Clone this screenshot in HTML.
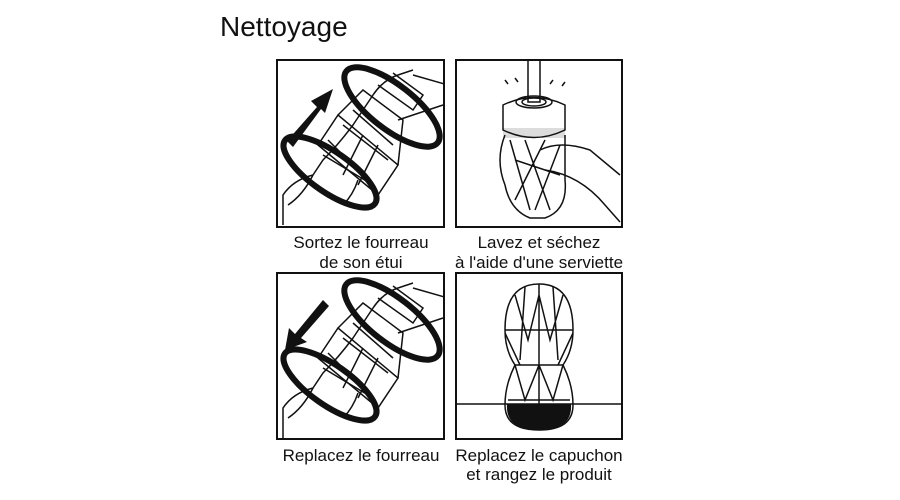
<!DOCTYPE html>
<html><head><meta charset="utf-8"><style>
body{margin:0;background:#fff;width:900px;height:500px;overflow:hidden}
svg{display:block}
text{font-family:"Liberation Sans",sans-serif;fill:#111}
</style></head><body>
<svg width="900" height="500" viewBox="0 0 900 500">
<text x="220" y="36" font-size="28">Nettoyage</text>
<g fill="none" stroke="#111" stroke-width="2">
<rect x="277" y="60" width="167" height="167"/>
<rect x="456" y="60" width="166" height="167"/>
<rect x="277" y="273" width="167" height="166"/>
<rect x="456" y="273" width="166" height="166"/>
</g>
<defs>
<clipPath id="c"><rect x="-5" y="-4" width="166" height="166"/></clipPath>
<g id="hand">
<g clip-path="url(#c)">
<g fill="none" stroke="#111" stroke-width="1.5">
<path d="M0 160 L0 130 Q10 115 30 110 L40 95 Q55 80 70 60 L90 30 Q100 15 115 10 L130 5"/>
<path d="M35 80 L95 130 L115 100 L55 50 Z"/>
<path d="M55 50 L80 25 L120 55 L115 100"/>
<path d="M60 60 L105 95 M70 45 L110 80 M45 75 L75 105 M40 90 L90 120 M60 110 L80 70 M75 120 L95 80"/>
<path d="M95 20 L130 45 L140 30 L110 8"/>
<path d="M75 115 Q70 130 60 140 M30 110 Q20 130 5 140"/>
<path d="M160 40 L115 55 M130 10 L165 20"/>
</g>
<ellipse cx="109" cy="42" rx="58" ry="22" transform="rotate(38 109 42)" fill="none" stroke="#111" stroke-width="6"/>
<ellipse cx="47" cy="107" rx="55" ry="20" transform="rotate(35 47 107)" fill="none" stroke="#111" stroke-width="6"/>
</g>
</g>
</defs>
<g transform="translate(283,65)"><use href="#hand"/>
<path d="M4 76 L34 42 L28 36 L50 24 L42 48 L38 44 L10 82 Z" fill="#111"/>
</g>
<g transform="translate(283,278)"><use href="#hand"/>
<path d="M40 22 L12 56 L6 50 L2 72 L24 64 L18 60 L46 28 Z" fill="#111"/>
</g>
<!-- wash -->
<g fill="none" stroke="#111" stroke-width="1.5">
<rect x="528" y="60" width="12" height="42"/>
<path d="M503 105 Q534 90 565 105 L565 130 Q534 145 503 130 Z"/>
<ellipse cx="534" cy="102" rx="18" ry="6"/><ellipse cx="534" cy="102" rx="12" ry="4"/>
<path d="M505 135 Q495 160 505 185 Q510 210 530 218 L545 218 Q568 210 565 180 L565 135"/>
<path d="M510 140 L530 210 M525 140 L550 210 M545 140 L515 200 M560 145 L535 210 M515 160 L560 175"/>
<path d="M540 150 Q560 140 590 150 L620 175 M545 170 Q580 175 605 205 L620 222"/>
<path d="M505 80 l3 4 M515 78 l3 4 M553 80 l-3 4 M565 82 l-3 4"/>
</g>
<rect x="503" y="128" width="62" height="10" fill="#111" opacity=".15"/>
<!-- capsule -->
<g fill="none" stroke="#111" stroke-width="1.5">
<path d="M539 284 Q505 284 505 330 Q505 350 515 365 Q505 385 505 405 Q505 430 539 430 Q573 430 573 405 Q573 385 563 365 Q573 350 573 330 Q573 284 539 284 Z"/>
<path d="M539 284 L539 430 M525 287 L520 360 M553 287 L558 360 M515 295 L528 340 L539 295 L550 340 L563 295 M505 330 L573 330 M515 365 L563 365 M508 400 L570 400 M515 365 L525 400 L539 365 L553 400 L563 365 M505 333 L520 365 M573 333 L558 365"/>
<line x1="456" y1="404" x2="622" y2="404"/>
</g>
<path d="M507 404 L571 404 Q573 430 539 430 Q505 430 507 404 Z" fill="#111"/>
<g font-size="17" text-anchor="middle">
<text x="361" y="248">Sortez le fourreau</text>
<text x="361" y="268">de son étui</text>
<text x="539" y="248">Lavez et séchez</text>
<text x="539" y="268">à l'aide d'une serviette</text>
<text x="361" y="461">Replacez le fourreau</text>
<text x="539" y="461">Replacez le capuchon</text>
<text x="539" y="480">et rangez le produit</text>
</g>
</svg>
</body></html>
